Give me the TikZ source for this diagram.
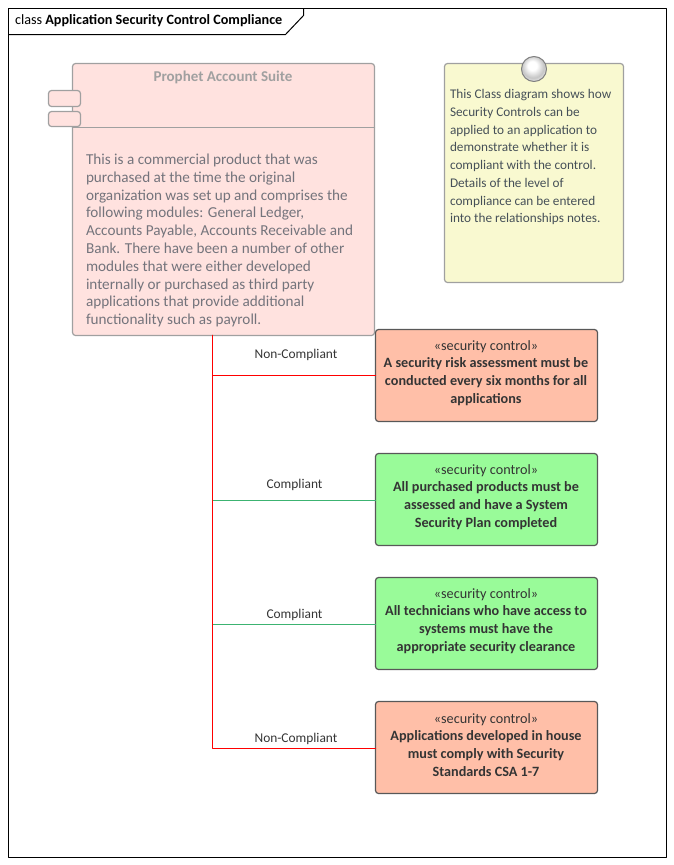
\documentclass[tikz,border=0pt]{standalone}
\usepackage{fontspec}
\setmainfont{Carlito}
\definecolor{suitefill}{HTML}{FFE2DF}
\definecolor{suiteline}{HTML}{A0A0A0}
\definecolor{suitetext}{HTML}{74747C}
\definecolor{notefill}{HTML}{F9F9D0}
\definecolor{notetext}{HTML}{465058}
\definecolor{badfill}{HTML}{FFBFA8}
\definecolor{goodfill}{HTML}{99FB99}
\definecolor{boxline}{HTML}{585858}
\definecolor{boxtext}{HTML}{343434}
\definecolor{goodline}{HTML}{3CB371}
\definecolor{badline}{HTML}{FF0000}
\pgfdeclareradialshading{pinball}{\pgfpoint{-4bp}{8bp}}{color(0bp)=(white); color(9bp)=(white); color(22bp)=(gray!45); color(30bp)=(gray!15); color(50bp)=(gray!15)}
\tikzset{
	every node/.style={outer sep=0pt, inner sep=0pt},
	suitebox/.style={draw=suiteline, fill=suitefill, line width=1.2pt, rounded corners=3pt, anchor=north west},
	notebox/.style={draw=suiteline, fill=notefill, line width=1.2pt, rounded corners=3pt, anchor=north west, minimum width=179pt, minimum height=219pt},
	control/.style={draw=boxline, line width=1.2pt, rounded corners=3pt, anchor=north west, minimum width=222pt, minimum height=92pt},
	bad/.style={control, fill=badfill},
	good/.style={control, fill=goodfill},
	ctrltext/.style={text=boxtext, align=center, font=\fontsize{14.2}{17.8}\selectfont},
	wirelabel/.style={text=boxtext, font=\fontsize{13.4}{16}\selectfont},
	redwire/.style={color=badline, line width=1.2pt},
	greenwire/.style={color=goodline, line width=1.1pt}
}
\begin{document}
\begin{tikzpicture}[x=1pt, y=-1pt, line join=round, line cap=round]
	\useasboundingbox (0,0) rectangle (674,865);
	% frame and tab
	\draw[line width=1pt] (8.5,8.5) rectangle (666.5,857.5);
	\draw[line width=1pt] (8.5,34.5)--(285.5,34.5)--(303.5,15.5)--(303.5,8.5);
	\node[anchor=west, font=\fontsize{14.2}{16}\selectfont] (title) at (15,20.5) {class \textbf{Application Security Control Compliance}};

	% component
	\node[suitebox, minimum width=302pt, minimum height=272pt] (suite) at (72.5,63.5) {};
	\node[suitebox, minimum width=32pt, minimum height=16pt] (portA) at (48.5,90.5) {};
	\node[suitebox, minimum width=32pt, minimum height=15pt] (portB) at (48.5,111.5) {};
	\coordinate (divL) at (72.5,127.5);
	\coordinate (divR) at (374.5,127.5);
	\draw[draw=suiteline, line width=1.2pt] (divL)--(divR);
	\node[text=suiteline, font=\fontsize{15}{16}\bfseries\selectfont] (suitename) at (223,77) {Prophet Account Suite};
	\node[anchor=north west, align=left, text=suitetext, font=\fontsize{15.2}{17.8}\selectfont] (suitebody) at (86,154) {This is a commercial product that was\\
		purchased at the time the original\\
		organization was set up and comprises the\\
		following modules: General Ledger,\\
		Accounts Payable, Accounts Receivable and\\
		Bank. There have been a number of other\\
		modules that were either developed\\
		internally or purchased as third party\\
		applications that provide additional\\
		functionality such as payroll.};

	% note
	\node[notebox] (note) at (444.5,63.5) {};
	\node[circle, draw=gray, line width=1pt, minimum size=25pt, shading=pinball] (pin) at (534,69) {};
	\node[anchor=north west, align=left, text=notetext, font=\fontsize{13.25}{17.75}\selectfont] (notetxt) at (450,89.5) {This Class diagram shows how\\
		Security Controls can be\\
		applied to an application to\\
		demonstrate whether it is\\
		compliant with the control.\\
		Details of the level of\\
		compliance can be entered\\
		into the relationships notes.};

	% security controls
	\node[bad] (risk) at (375.5,329.5) {};
	\node[good] (purchased) at (375.5,453.5) {};
	\node[good] (technicians) at (375.5,577.5) {};
	\node[bad] (inhouse) at (375.5,701.5) {};
	\node[ctrltext] (risktxt) at (486,373) {«security control»\\\textbf{A security risk assessment must be}\\\textbf{conducted every six months for all}\\\textbf{applications}};
	\node[ctrltext] (purchasedtxt) at (486,497) {«security control»\\\textbf{All purchased products must be}\\\textbf{assessed and have a System}\\\textbf{Security Plan completed}};
	\node[ctrltext] (technicianstxt) at (486,621) {«security control»\\\textbf{All technicians who have access to}\\\textbf{systems must have the}\\\textbf{appropriate security clearance}};
	\node[ctrltext] (inhousetxt) at (486,745) {«security control»\\\textbf{Applications developed in house}\\\textbf{must comply with Security}\\\textbf{Standards CSA 1-7}};

	% connectors
	\coordinate (trunk) at (212.5,335.5);
	\draw[greenwire] (trunk) |- ([yshift=-1pt]purchased.west);
	\draw[greenwire] (trunk) |- ([yshift=-1pt]technicians.west);
	\draw[redwire] (trunk) |- (risk.west);
	\draw[redwire] (trunk) |- ([yshift=-1pt]inhouse.west);

	\node[wirelabel] (lblA) at (296,355) {Non-Compliant};
	\node[wirelabel] (lblB) at (294.5,485) {Compliant};
	\node[wirelabel] (lblC) at (294.5,615) {Compliant};
	\node[wirelabel] (lblD) at (296,739) {Non-Compliant};
\end{tikzpicture}
\end{document}
